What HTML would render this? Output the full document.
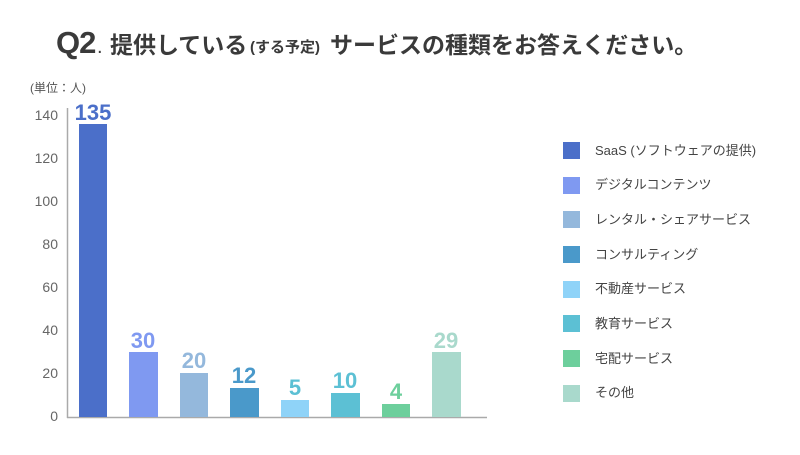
<!DOCTYPE html>
<html><head><meta charset="utf-8"><style>
body{margin:0;background:#fff;}
svg text{font-family:"Liberation Sans","Noto Sans CJK JP",sans-serif;}
</style></head><body>
<svg width="800" height="450" xmlns="http://www.w3.org/2000/svg">
<text x="56" y="53" font-size="31" font-weight="bold" fill="#3a3a3a" letter-spacing="-1">Q2</text>
<text x="97" y="53" font-size="20" fill="#3a3a3a">.</text>
<text x="110" y="53" font-size="23" font-weight="bold" fill="#3a3a3a">提供している</text>
<text x="250" y="52" font-size="15" font-weight="bold" fill="#3a3a3a">(する予定)</text>
<text x="330" y="53" font-size="23" font-weight="bold" fill="#3a3a3a">サービスの種類をお答えください。</text>
<text x="30" y="92" font-size="12" fill="#555">(単位：人)</text>
<g font-size="14" fill="#666" text-anchor="end">
<text x="58" y="120">140</text><text x="58" y="163">120</text><text x="58" y="206">100</text>
<text x="58" y="249">80</text><text x="58" y="292">60</text><text x="58" y="335">40</text>
<text x="58" y="378">20</text><text x="58" y="421">0</text>
</g>
<line x1="67.5" y1="108" x2="67.5" y2="418" stroke="#aaa" stroke-width="1.5"/>
<line x1="67" y1="417.5" x2="487" y2="417.5" stroke="#aaa" stroke-width="1.5"/>
<g>
<rect x="79" y="124" width="28" height="293" fill="#4b6fc9"/>
<rect x="129" y="352" width="29" height="65" fill="#7f99f1"/>
<rect x="180" y="373" width="28" height="44" fill="#94b8dc"/>
<rect x="230" y="388" width="29" height="29" fill="#4a99ca"/>
<rect x="281" y="400" width="28" height="17" fill="#8fd3f8"/>
<rect x="331" y="393" width="29" height="24" fill="#5cc0d4"/>
<rect x="382" y="404" width="28" height="13" fill="#6dcf9c"/>
<rect x="432" y="352" width="29" height="65" fill="#a9d9cc"/>
</g>
<g font-size="22" font-weight="bold" text-anchor="middle">
<text x="93" y="120" fill="#4b6fc9">135</text>
<text x="143" y="348" fill="#7f99f1">30</text>
<text x="194" y="368" fill="#94b8dc">20</text>
<text x="244" y="383" fill="#4a99ca">12</text>
<text x="295" y="395" fill="#5cc0d4">5</text>
<text x="345" y="388" fill="#5cc0d4">10</text>
<text x="396" y="399" fill="#6dcf9c">4</text>
<text x="446" y="348" fill="#a9d9cc">29</text>
</g>
<g>
<rect x="563" y="142" width="17" height="17" fill="#4b6fc9"/>
<rect x="563" y="177" width="17" height="17" fill="#7f99f1"/>
<rect x="563" y="211" width="17" height="17" fill="#94b8dc"/>
<rect x="563" y="246" width="17" height="17" fill="#4a99ca"/>
<rect x="563" y="281" width="17" height="17" fill="#8fd3f8"/>
<rect x="563" y="315" width="17" height="17" fill="#5cc0d4"/>
<rect x="563" y="350" width="17" height="17" fill="#6dcf9c"/>
<rect x="563" y="385" width="17" height="17" fill="#a9d9cc"/>
</g>
<g font-size="13" fill="#444">
<text x="595" y="155">SaaS (ソフトウェアの提供)</text>
<text x="595" y="189">デジタルコンテンツ</text>
<text x="595" y="224">レンタル・シェアサービス</text>
<text x="595" y="259">コンサルティング</text>
<text x="595" y="293">不動産サービス</text>
<text x="595" y="328">教育サービス</text>
<text x="595" y="363">宅配サービス</text>
<text x="595" y="397">その他</text>
</g>
</svg>
</body></html>
